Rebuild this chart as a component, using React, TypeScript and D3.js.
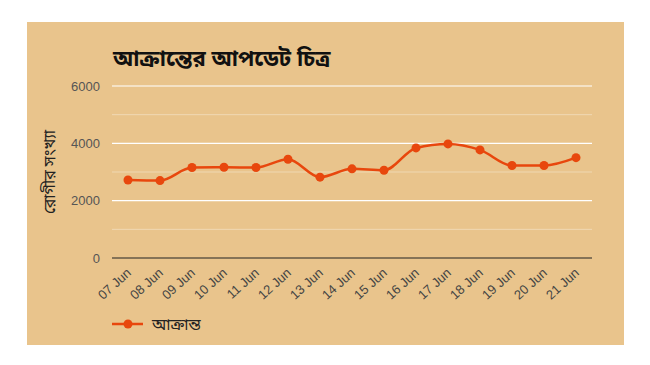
import React from "react";
import * as d3 from "d3";

const categories = ["07 Jun","08 Jun","09 Jun","10 Jun","11 Jun","12 Jun","13 Jun","14 Jun","15 Jun","16 Jun","17 Jun","18 Jun","19 Jun","20 Jun","21 Jun"];
const values = [2720, 2700, 3155, 3165, 3155, 3445, 2820, 3110, 3060, 3840, 3980, 3770, 3225, 3225, 3500];
const yTicks = [0, 2000, 4000, 6000];
const minorTicks = [1000, 3000, 5000];
const title = "আক্রান্তের আপডেট চিত্র";
const yTitle = "রোগীর সংখ্যা";
const seriesName = "আক্রান্ত";

const W = 650, H = 365;
const plot = { left: 112, right: 592, top: 86, bottom: 258 };
const bg = "#E9C48C";
const lineColor = "#E8470D";
const bengali = "'Noto Sans Bengali', 'Noto Serif Bengali', 'Lohit Bengali', Vrinda, 'Noto Sans', sans-serif";
const arial = "Arial, 'Liberation Sans', sans-serif";

export default function App() {
  const x = d3.scaleBand().domain(categories).range([plot.left, plot.right]);
  const y = d3.scaleLinear().domain([0, 6000]).range([plot.bottom, plot.top]);
  const cx = (c: string) => (x(c) ?? 0) + x.bandwidth() / 2;
  const line = d3.line<number>()
    .x((_, i) => cx(categories[i]))
    .y((d) => y(d))
    .curve(d3.curveMonotoneX);

  return (
    <svg width={W} height={H} style={{ position: "absolute", left: 0, top: 0, background: "#fff" }}>
      <rect x={27} y={22} width={597} height={323} fill={bg} />
      <text x={113} y={66} fontFamily={bengali} fontWeight="bold" fontSize={22} fill="#111">{title}</text>
      {minorTicks.map((t) => (
        <line key={"m" + t} x1={plot.left} x2={plot.right} y1={y(t)} y2={y(t)} stroke="#fff" strokeOpacity={0.35} />
      ))}
      {yTicks.filter((t) => t !== 0).map((t) => (
        <line key={"g" + t} x1={plot.left} x2={plot.right} y1={y(t)} y2={y(t)} stroke="#fff" strokeWidth={1.2} />
      ))}
      <line x1={plot.left} x2={plot.right} y1={y(0)} y2={y(0)} stroke="#222" strokeWidth={1.2} />
      {yTicks.map((t) => (
        <text key={"t" + t} x={100} y={y(t) + 4.5} textAnchor="end" fontFamily={arial} fontSize={13} fill="#555">{t}</text>
      ))}
      <text transform={`translate(55,${(plot.top + plot.bottom) / 2}) rotate(-90)`} textAnchor="middle" fontFamily={bengali} fontSize={16} fill="#222">{yTitle}</text>
      {categories.map((c) => (
        <text key={c} transform={`translate(${cx(c) + 4},${plot.bottom + 16}) rotate(-42)`} textAnchor="end" fontFamily={arial} fontSize={13} fill="#444">{c}</text>
      ))}
      <path d={line(values) ?? ""} fill="none" stroke={lineColor} strokeWidth={2.5} />
      {values.map((v, i) => (
        <circle key={i} cx={cx(categories[i])} cy={y(v)} r={4.5} fill={lineColor} />
      ))}
      <line x1={112} x2={143} y1={324} y2={324} stroke={lineColor} strokeWidth={2.5} />
      <circle cx={128} cy={324} r={4.5} fill={lineColor} />
      <text x={152} y={330} fontFamily={bengali} fontSize={16} fill="#222">{seriesName}</text>
    </svg>
  );
}
